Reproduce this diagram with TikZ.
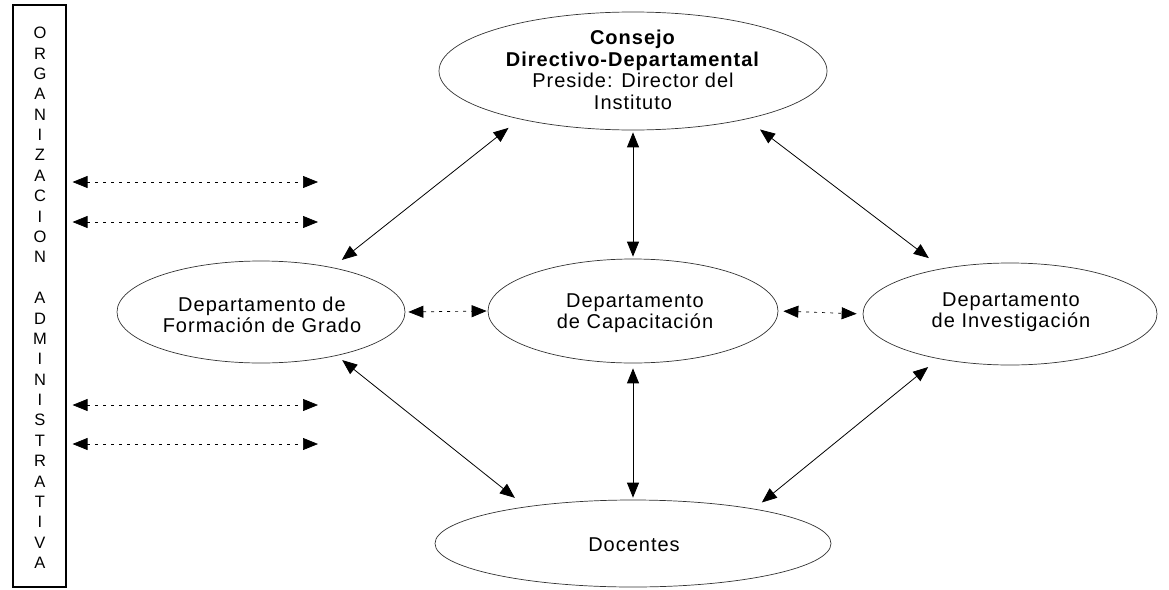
\documentclass[tikz,border=0pt]{standalone}
\usepackage{fontspec}
\setmainfont{Liberation Sans}
\newfontfamily\lbl[LetterSpace=5]{Liberation Sans}
\usetikzlibrary{shapes.geometric,arrows.meta}
\begin{document}
\begin{tikzpicture}[x=1pt,y=-1pt,
  ell/.style={draw=black!80, line width=0.7pt, ellipse, inner sep=0pt},
  lbltxt/.style={align=center, font=\lbl\fontsize{20}{21}\selectfont, inner sep=0pt},
  toptxt/.style={lbltxt, font=\lbl\fontsize{20}{21.7}\selectfont},
  conn/.style={line width=0.8pt, {Triangle[length=15pt,width=12pt]}-{Triangle[length=15pt,width=12pt]}},
  dconn/.style={line width=0.7pt, dash pattern=on 3pt off 5pt, {Triangle[length=15pt,width=12pt]}-{Triangle[length=15pt,width=12pt]}},
  letter/.style={font=\fontsize{16.5}{16.5}\selectfont, inner sep=0pt},
  barbox/.style={draw, line width=1.1pt, rectangle, inner sep=0pt, minimum width=53pt, minimum height=582pt}]
\useasboundingbox (0,0) rectangle (1169,589);

% left bar
\node[barbox] (bar) at (39.5,296) {};
\foreach \c [count=\i] in {O,R,G,A,N,I,Z,A,C,I,O,N}
  \node[letter] (la\i) at (40,{33+(\i-1)*20.38}) {\c};
\foreach \c [count=\i] in {A,D,M,I,N,I,S,T,R,A,T,I,V,A}
  \node[letter] (lb\i) at (40,{33+(\i+12)*20.38}) {\c};

% ellipses
\node[ell, minimum width=388pt, minimum height=118pt] (cons) at (633,71) {};
\node[toptxt] (const) at (633,70) {\textbf{Consejo}\\\textbf{Directivo-Departamental}\\Preside: Director del\\Instituto};
\node[ell, minimum width=288pt, minimum height=102pt] (fg) at (261,312) {};
\node[lbltxt] (fgt) at (262,315) {Departamento de\\Formación de Grado};
\node[ell, minimum width=290pt, minimum height=104pt] (cap) at (633,311) {};
\node[lbltxt] (capt) at (635,313) {Departamento\\de Capacitación};
\node[ell, minimum width=294pt, minimum height=102pt] (inv) at (1010,314) {};
\node[lbltxt] (invt) at (1011,312.5) {Departamento\\de Investigación};
\node[ell, minimum width=396pt, minimum height=87pt] (doc) at (633,543.5) {};
\node[lbltxt] (doct) at (634,545) {Docentes};

% connectors
\draw[conn, shorten <=14pt, shorten >=12pt] (cons.203.6) -- (fg.32.7);
\draw[conn, shorten <=2pt, shorten >=2pt] (cons.south) -- (cap.north);
\draw[conn, shorten <=17pt, shorten >=17pt] (cons.337.8) -- (inv.146.3);
\draw[dconn, shorten <=3pt, shorten >=1pt] (fg.east) -- (cap.west);
\draw[dconn, shorten <=5pt, shorten >=6pt] (cap.east) -- (inv.west);
\draw[conn, shorten <=7pt, shorten >=14pt] (fg.330) -- (doc.161.3);
\draw[conn, shorten <=5pt, shorten >=2pt] (cap.south) -- (doc.north);
\draw[conn, shorten <=13pt, shorten >=10pt] (inv.212.8) -- (doc.16.6);

% arrows from the left bar
\coordinate (e1) at (318,182);
\coordinate (e2) at (318,222);
\coordinate (e3) at (318,405);
\coordinate (e4) at (318,444);
\foreach \k in {1,...,4}
  \draw[dconn, shorten <=6pt] (e\k -| bar.east) -- (e\k);
\end{tikzpicture}
\end{document}
